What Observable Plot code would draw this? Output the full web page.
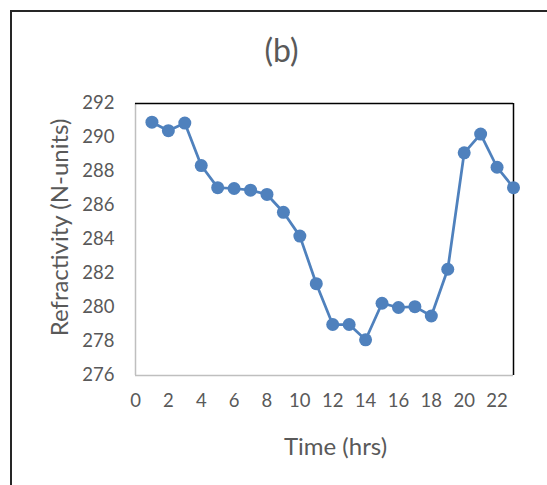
<!DOCTYPE html>
<html>
<head>
<meta charset="utf-8">
<script src="https://cdn.jsdelivr.net/npm/d3@7"></script>
<script src="https://cdn.jsdelivr.net/npm/@observablehq/plot@0.6"></script>
<style>
  html, body { margin: 0; padding: 0; background: #fff; }
  #chart { width: 547px; height: 485px; }
</style>
</head>
<body>
<div id="chart"></div>
<script>
const hours = [1,2,3,4,5,6,7,8,9,10,11,12,13,14,15,16,17,18,19,20,21,22,23];
const refractivity = [290.9,290.4,290.85,288.35,287.05,287.0,286.9,286.65,285.6,284.2,281.4,279.0,279.0,278.1,280.25,280.0,280.05,279.5,282.25,289.1,290.2,288.25,287.05];
const xTicks = [0,2,4,6,8,10,12,14,16,18,20,22];
const yTicks = [276,278,280,282,284,286,288,290,292];
const title = "(b)";
const xLabel = "Time (hrs)";
const yLabel = "Refractivity (N-units)";

const data = hours.map((h, i) => ({h, v: refractivity[i]}));
const blue = "#4f81bd";
const textColor = "#595959";
const font = "Lato, 'Open Sans', sans-serif";

const chart = Plot.plot({
  width: 547,
  height: 485,
  marginLeft: 135,
  marginTop: 103,
  marginRight: 34,
  marginBottom: 110,
  style: {fontFamily: font, background: "#fff", overflow: "visible"},
  x: {domain: [0, 23]},
  y: {domain: [276, 292]},
  marks: [
    Plot.ruleX([0], {stroke: "#bfbfbf", strokeWidth: 1.5}),
    Plot.ruleY([276], {stroke: "#bfbfbf", strokeWidth: 1.5}),
    Plot.ruleY([292], {stroke: "#000", strokeWidth: 1.5}),
    Plot.ruleX([23], {stroke: "#000", strokeWidth: 1.5}),
    Plot.axisX(xTicks, {tickSize: 0, tickPadding: 18, fontSize: 18.5, color: textColor, fill: textColor, label: null}),
    Plot.axisY(yTicks, {tickSize: 0, tickPadding: 21, fontSize: 18.5, color: textColor, fill: textColor, label: null}),
    Plot.line(data, {x: "h", y: "v", stroke: blue, strokeWidth: 2.75}),
    Plot.dot(data, {x: "h", y: "v", r: 6.5, fill: blue, stroke: blue, strokeWidth: 0}),
    Plot.text([title], {frameAnchor: "top", textAnchor: "middle", lineAnchor: "middle", dx: -43, dy: -52, fontSize: 32, fill: textColor}),
    Plot.text([xLabel], {frameAnchor: "bottom", textAnchor: "middle", lineAnchor: "middle", dx: 11, dy: 72, fontSize: 24, fill: textColor}),
    Plot.text([yLabel], {frameAnchor: "left", textAnchor: "middle", lineAnchor: "middle", dx: -75, dy: -12, rotate: -90, fontSize: 24, fill: textColor})
  ]
});

// outer chart-area border (extends beyond the picture on right and bottom)
d3.select(chart).append("path")
  .attr("d", "M11,490 L11,11 L552,11")
  .attr("fill", "none")
  .attr("stroke", "#262626")
  .attr("stroke-width", 2);

document.getElementById("chart").appendChild(chart);
</script>
</body>
</html>
